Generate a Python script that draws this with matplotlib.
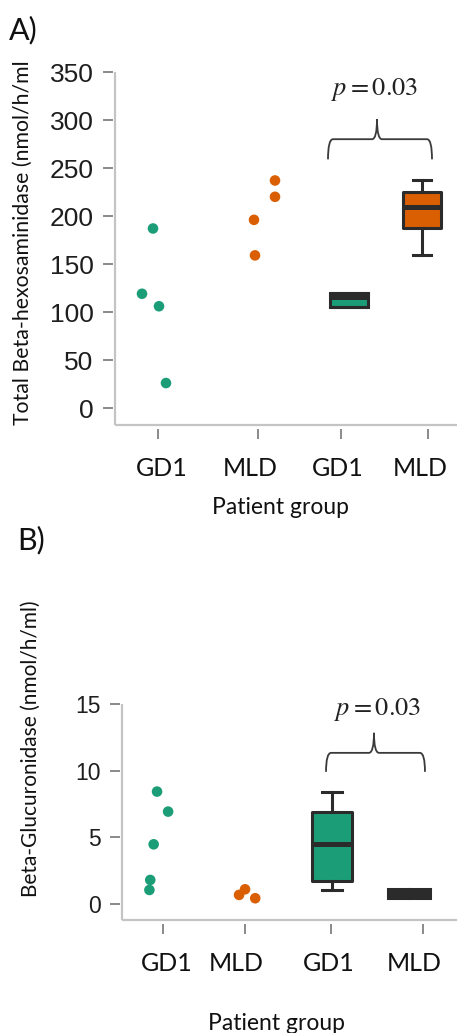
import matplotlib
matplotlib.use("Agg")
import matplotlib.pyplot as plt
from matplotlib.path import Path
from matplotlib.patches import PathPatch
from matplotlib.lines import Line2D
from matplotlib.transforms import ScaledTranslation

plt.rcParams['mathtext.fontset'] = 'stix'

# ---------------- data ----------------
categories = ["GD1", "MLD", "GD1", "MLD"]

# Panel A: total beta-hexosaminidase (nmol/h/ml)
a_gd1 = [187, 119, 106, 26]
a_mld = [237, 220, 196, 159]
a_box_q1 = [105, 187.5]
a_box_med = [116, 209]
a_box_q3 = [120, 225]
a_box_lo = [105, 159]
a_box_hi = [120, 237.5]
a_yticks = [0, 50, 100, 150, 200, 250, 300, 350]

# Panel B: beta-glucuronidase (nmol/h/ml)
b_gd1 = [8.44, 6.94, 4.49, 1.82, 1.07]
b_mld = [1.12, 0.70, 0.45]
b_box_q1 = [1.77, 0.62]
b_box_med = [4.49, 0.82]
b_box_q3 = [6.94, 1.05]
b_box_lo = [1.07, 0.5]
b_box_hi = [8.44, 1.15]
b_yticks = [0, 5, 10, 15]

p_text = "$p = 0.03$"

# ---------------- layout ----------------
GREEN = "#1b9e77"
ORANGE = "#d95f02"
EDGE = "#2b2b2b"
SPINE = "#c4c4c4"
TICK = "#8a8a8a"

W, H = 457, 1033
fig = plt.figure(figsize=(W / 100, H / 100), dpi=100)

def fx(px):
    return px / W

def fy(py):
    return 1 - py / H

def setup(ax, ticks_x, ylim, yticks, ysize, label_shift):
    for s in ax.spines.values():
        s.set_visible(False)
    ax.spines['left'].set_position(('outward', 1.5))
    ax.spines['bottom'].set_position(('outward', 3))
    ax.add_line(Line2D([0, 0], [0, 1], transform=ax.transAxes, color=SPINE,
                       lw=1.6, clip_on=False, solid_capstyle='butt'))
    ax.add_line(Line2D([0, 1], [0, 0], transform=ax.transAxes, color=SPINE,
                       lw=1.6, clip_on=False, solid_capstyle='butt'))
    ax.set_ylim(*ylim)
    ax.set_yticks(yticks)
    ax.set_xticks(ticks_x)
    ax.set_xticklabels(categories)
    ax.tick_params(axis='y', length=7, width=1.4, color=TICK, pad=7,
                   labelsize=ysize, labelcolor='#1e1e1e',
                   labelfontfamily='Liberation Sans')
    ax.tick_params(axis='x', length=7, width=1.4, color=TICK, pad=13,
                   labelsize=18, labelcolor='#111111', labelfontfamily='Lato')
    for lab, dx in zip(ax.get_xticklabels(), label_shift):
        lab.set_transform(lab.get_transform() +
                          ScaledTranslation(dx / 100, 0, fig.dpi_scale_trans))
    ax.patch.set_alpha(0)

def brace(ax, x0, x1, xc, yb, yh, yp, dx):
    verts = [(x0, yb), (x0, yh), (x0 + dx, yh),
             (xc - dx, yh),
             (xc, yh), (xc, yp),
             (xc, yh), (xc + dx, yh),
             (x1 - dx, yh),
             (x1, yh), (x1, yb)]
    codes = [Path.MOVETO, Path.CURVE3, Path.CURVE3,
             Path.LINETO,
             Path.CURVE3, Path.CURVE3,
             Path.CURVE3, Path.CURVE3,
             Path.LINETO,
             Path.CURVE3, Path.CURVE3]
    ax.add_patch(PathPatch(Path(verts, codes), fill=False, ec='#3a3a3a', lw=1.3,
                           clip_on=False))

def boxes(ax, pos, q1, med, q3, lo, hi, widths, capw, colors):
    stats = []
    for i in range(len(pos)):
        stats.append(dict(q1=q1[i], med=med[i], q3=q3[i], whislo=lo[i],
                          whishi=hi[i], fliers=[]))
    bp = ax.bxp(stats, positions=pos, widths=widths, patch_artist=True,
                showfliers=False, capwidths=capw, manage_ticks=False,
                boxprops=dict(edgecolor=EDGE, linewidth=2.2),
                medianprops=dict(color=EDGE, linewidth=3.6, solid_capstyle='butt'),
                whiskerprops=dict(color=EDGE, linewidth=2.2),
                capprops=dict(color=EDGE, linewidth=2.2))
    for patch, c in zip(bp['boxes'], colors):
        patch.set_facecolor(c)
        patch.set_joinstyle('round')

# ---------------- Panel A ----------------
# 100 px per x unit; first tick at x=158 px
axA = fig.add_axes([fx(115), fy(425), fx(457 - 115), fy(72) - fy(425)])
a_ticks = [0, 1.0, 1.83, 2.70]
axA.set_xlim((115 - 158) / 100, (457 - 158) / 100)
setup(axA, a_ticks, (-17.7, 350), a_yticks, 19, [4, -8, -3, -8])

a_gd1_jit = [-0.05, -0.16, 0.01, 0.08]
a_mld_jit = [0.17, 0.17, -0.04, -0.03]
axA.scatter([a_ticks[0] + j for j in a_gd1_jit], a_gd1, s=58, color=GREEN,
            edgecolors='none', zorder=3)
axA.scatter([a_ticks[1] + j for j in a_mld_jit], a_mld, s=58, color=ORANGE,
            edgecolors='none', zorder=3)
boxes(axA, [a_ticks[2] + 0.075, a_ticks[3] - 0.06], a_box_q1, a_box_med, a_box_q3,
      a_box_lo, a_box_hi, [0.38, 0.38], [0.38, 0.18], [GREEN, ORANGE])
brace(axA, 1.70, 2.74, 2.19, 259, 280, 301, 0.05)
axA.text(2.17, 332, p_text, ha='center', va='center', fontsize=19, color='#222222')

fig.text(fx(23), fy(425), "Total Beta-hexosaminidase (nmol/h/ml", rotation=90,
         ha='center', va='bottom', fontfamily='Lato', fontsize=15.3, color='#111111')
fig.text(fx(280), fy(508), "Patient group", ha='center', va='center',
         fontfamily='Lato', fontsize=16.5, color='#111111')
fig.text(fx(23), fy(30), "A)", ha='center', va='center', fontfamily='Lato',
         fontsize=22, color='#111111')

# ---------------- Panel B ----------------
# 85 px per x unit; first tick at x=163 px
axB = fig.add_axes([fx(122), fy(920), fx(457 - 122), fy(704) - fy(920)])
b_ticks = [0, 0.965, 1.976, 3.059]
axB.set_xlim((122 - 163) / 85, (457 - 163) / 85)
setup(axB, b_ticks, (-1.18, 15), b_yticks, 16.5, [4, -9, -2, -9])

b_gd1_jit = [-0.07, 0.06, -0.11, -0.15, -0.16]
b_mld_jit = [0.0, -0.07, 0.12]
axB.scatter([b_ticks[0] + j for j in b_gd1_jit], b_gd1, s=58, color=GREEN,
            edgecolors='none', zorder=3)
axB.scatter([b_ticks[1] + j for j in b_mld_jit], b_mld, s=58, color=ORANGE,
            edgecolors='none', zorder=3)
boxes(axB, [b_ticks[2] + 0.012, b_ticks[3] - 0.165], b_box_q1, b_box_med, b_box_q3,
      b_box_lo, b_box_hi, [0.47, 0.49], [0.24, 0.49], [GREEN, ORANGE])
brace(axB, 1.918, 3.082, 2.482, 9.92, 11.34, 12.84, 0.06)
axB.text(2.53, 14.57, p_text, ha='center', va='center', fontsize=19, color='#222222')

fig.text(fx(31), fy(897), "Beta-Glucuronidase (nmol/h/ml)", rotation=90,
         ha='center', va='bottom', fontfamily='Lato', fontsize=15, color='#111111')
fig.text(fx(277), fy(1024), "Patient group", ha='center', va='center',
         fontfamily='Lato', fontsize=16.5, color='#111111')
fig.text(fx(31), fy(540), "B)", ha='center', va='center', fontfamily='Lato',
         fontsize=22, color='#111111')

fig.savefig("out.png", dpi=100)
